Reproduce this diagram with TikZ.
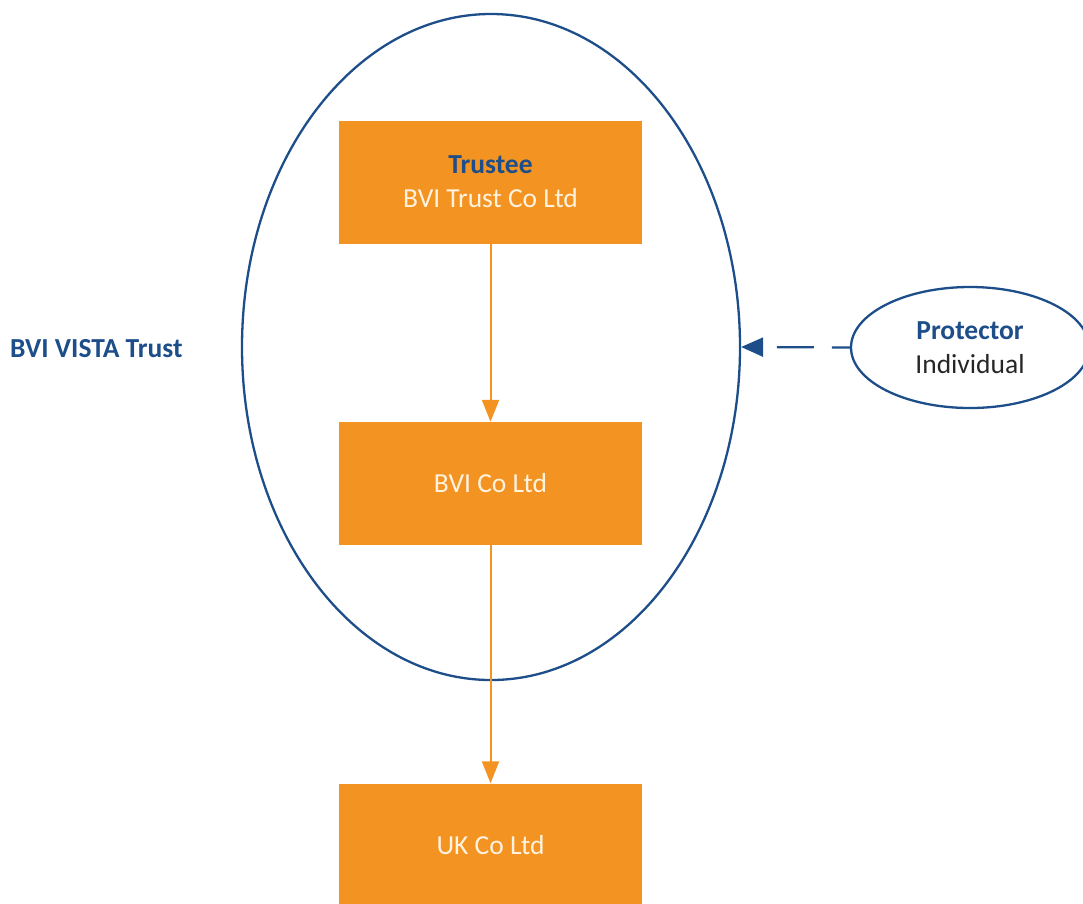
\documentclass[tikz,border=0pt]{standalone}
\usepackage{fontspec}
\setmainfont{Carlito}
\usetikzlibrary{shapes.geometric,arrows.meta}
\definecolor{orng}{HTML}{F39322}
\definecolor{dblue}{HTML}{1D4E89}
\definecolor{cream}{HTML}{FFF3E0}
\tikzset{
  entity/.style={fill=orng, draw=none, minimum width=303pt, minimum height=123pt, inner sep=0pt, align=center, font=\fontsize{27.5}{34}\selectfont, text=cream},
  own/.style={draw=orng, line width=2pt, -{Triangle[length=22pt,width=17pt]}},
  ring/.style={ellipse, draw=dblue, line width=2.3pt, inner sep=0pt},
  ctrl/.style={draw=dblue, line width=2.3pt, dash pattern=on 37pt off 18pt, dash phase=19pt, -{Triangle[length=22pt,width=19pt]}},
}
\begin{document}
\begin{tikzpicture}[x=1pt,y=-1pt]
\useasboundingbox (0,0) rectangle (1083,903);
\clip (0,0) rectangle (1083,903);
\node[ring, minimum width=498pt, minimum height=666pt] (trust) at (491,347) {};
\node[entity] (trustee) at (490.5,182) {{\bfseries\color{dblue}Trustee}\\BVI Trust Co Ltd};
\node[entity] (bvico) at (490.5,483.5) {BVI Co Ltd};
\node[entity] (ukco) at (490.5,845) {UK Co Ltd};
\node[ring, minimum width=238pt, minimum height=121pt, align=center, font=\fontsize{27.5}{34}\selectfont, text=black!85] (prot) at (970,347.5) {{\bfseries\color{dblue}Protector}\\Individual};
\node[anchor=west, inner sep=0pt, font=\fontsize{27.5}{30}\selectfont\bfseries, text=dblue] (label) at (10,349) {BVI VISTA Trust};
\draw[own] (trustee.south) -- (bvico.north);
\draw[own] (bvico.south) -- (ukco.north);
\draw[ctrl] (prot.west) -- (trust.east);
\end{tikzpicture}
\end{document}
